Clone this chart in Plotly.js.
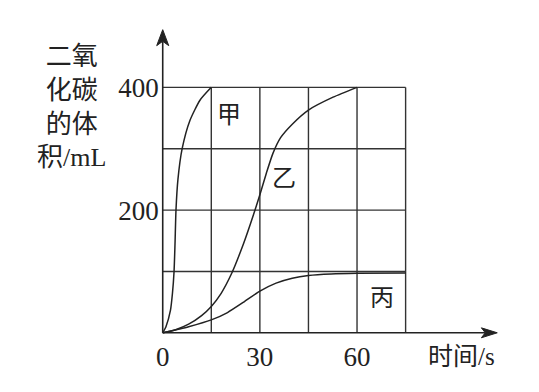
<!DOCTYPE html>
<html><head><meta charset="utf-8">
<script src="https://cdn.plot.ly/plotly-3.0.1.min.js"></script>
<style>html,body{margin:0;padding:0;background:#fff}</style>
</head><body>
<div id="chart" style="width:539px;height:392px"></div>
<script>
// curve 甲
const jiaX = [0, 1, 2.4, 3, 3.5, 3.8, 4.1, 4.7, 6, 8.4, 11.5, 15];
const jiaY = [0, 10, 37, 64, 100, 145, 200, 250, 300, 346, 379, 400];
// curve 乙
const yiX = [0, 4, 8, 12, 15, 18, 21.3, 25, 28, 30, 32, 34, 36.4, 40, 45, 52.6, 60];
const yiY = [0, 5, 14, 28, 43, 64, 97, 146, 192, 225, 260, 292, 318, 340, 363, 384, 400];
// curve 丙
const bingX = [0, 8, 15, 20, 25, 30, 35, 40, 45, 52, 60, 75];
const bingY = [0, 10, 21, 33, 50, 68, 81, 89, 93.5, 96, 97, 97.3];
// grid & ticks
const gridX = [15, 30, 45, 60, 75];
const gridY = [100, 200, 300, 400];
const xTicks = [0, 30, 60];
const yTicks = [200, 400];
const curveLabels = ['甲', '乙', '丙'];
const labelX = [20.4, 37.5, 67.7];
const labelY = [359, 256, 60];
const yTitle = '二氧<br>化碳<br>的体<br>积/mL';
const xTitle = '时间/s';

const ink = '#222';
const lineStyle = {color: ink, width: 1.5, shape: 'spline', smoothing: 0.6};
const traces = [
  {x: jiaX, y: jiaY, mode: 'lines', line: lineStyle, hoverinfo: 'skip'},
  {x: yiX, y: yiY, mode: 'lines', line: lineStyle, hoverinfo: 'skip'},
  {x: bingX, y: bingY, mode: 'lines', line: lineStyle, hoverinfo: 'skip'}
];

const xMax = 75, yMax = 400;
const shapes = [];
gridX.forEach(v => shapes.push({type: 'line', xref: 'x', yref: 'y', x0: v, x1: v, y0: 0, y1: yMax, line: {color: '#333', width: 1.4}, layer: 'below'}));
gridY.forEach(v => shapes.push({type: 'line', xref: 'x', yref: 'y', x0: 0, x1: xMax, y0: v, y1: v, line: {color: '#333', width: 1.4}, layer: 'below'}));
// axes
shapes.push({type: 'line', xref: 'x', yref: 'y', x0: 0, x1: 99.5, y0: 0, y1: 0, line: {color: ink, width: 1.6}});
shapes.push({type: 'line', xref: 'x', yref: 'y', x0: 0, x1: 0, y0: 0, y1: 475, line: {color: ink, width: 1.6}});
// arrowheads
shapes.push({type: 'path', xref: 'x', yref: 'y', path: 'M 103.3,0 L 98.4,8.1 L 99.6,0 L 98.4,-8.1 Z', fillcolor: ink, line: {color: ink, width: 1}});
shapes.push({type: 'path', xref: 'x', yref: 'y', path: 'M 0,494 L 1.86,468 L 0,475 L -1.86,468 Z', fillcolor: ink, line: {color: ink, width: 1}});

const annotations = [];
curveLabels.forEach((t, i) => annotations.push({x: labelX[i], y: labelY[i], xref: 'x', yref: 'y', text: t, showarrow: false, xanchor: 'center', yanchor: 'middle', font: {family: 'Noto Sans CJK SC', size: 24, color: ink}}));
annotations.push({x: -0.2321, y: 0.7427, xref: 'paper', yref: 'paper', xanchor: 'center', yanchor: 'middle', text: yTitle, showarrow: false, align: 'center', font: {family: 'Liberation Serif, Noto Sans CJK SC', size: 26, color: ink}});
annotations.push({x: 0.8732, y: -0.0467, xref: 'paper', yref: 'paper', xanchor: 'center', yanchor: 'middle', text: xTitle, showarrow: false, font: {family: 'Liberation Serif, Noto Sans CJK SC', size: 25, color: ink}});

const layout = {
  width: 539, height: 392,
  margin: {l: 153.3, r: 33.3, t: 25.5, b: 49.8, pad: 0},
  paper_bgcolor: '#fff', plot_bgcolor: '#fff',
  showlegend: false,
  xaxis: {range: [-3, 106], showgrid: false, zeroline: false, showline: false, ticks: '',
          tickvals: xTicks, ticktext: xTicks.map(String), anchor: 'free', position: 0.0291,
          ticklabelstandoff: 5,
          tickfont: {family: 'Liberation Serif', size: 27, color: ink}, fixedrange: true},
  yaxis: {range: [-15, 500], showgrid: false, zeroline: false, showline: false, ticks: '',
          tickvals: yTicks, ticktext: yTicks.map(String), anchor: 'free', position: 0.0275,
          ticklabelstandoff: 4,
          tickfont: {family: 'Liberation Serif', size: 27, color: ink}, fixedrange: true},
  shapes: shapes,
  annotations: annotations
};
Plotly.newPlot('chart', traces, layout, {staticPlot: true, displayModeBar: false});
</script>
</body></html>
